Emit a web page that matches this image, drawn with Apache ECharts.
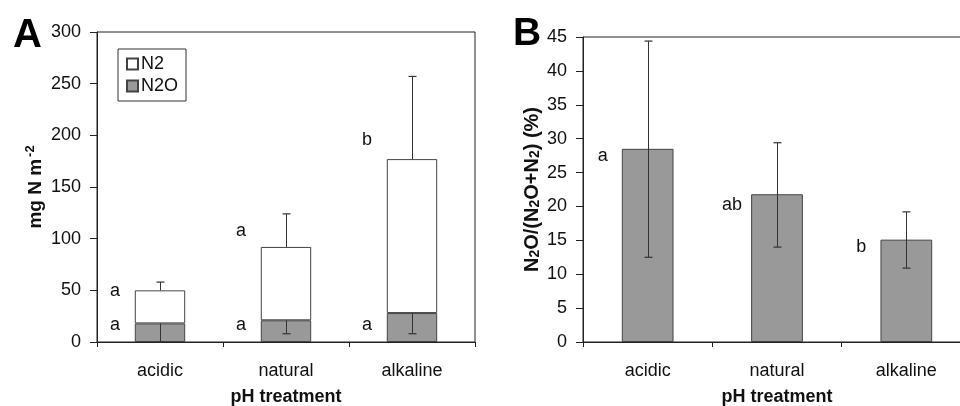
<!DOCTYPE html>
<html>
<head>
<meta charset="utf-8">
<style>
  html, body { margin: 0; padding: 0; background: #fff; }
  #main { width: 960px; height: 406px; }
</style>
<script src="https://cdn.jsdelivr.net/npm/echarts@6/dist/echarts.min.js"></script>
</head>
<body>
<div id="main"></div>
<script>
// 数据
var categories = ['acidic', 'natural', 'alkaline'];

// panel A (mg N m-2)
var n2oA = [18, 21, 28];
var n2A = [32, 71, 149];
var totalA = [50, 92, 177];
var totalErrTop = [58, 124, 257];
var n2oErrBottom = [0, 8, 8];
var lettersTotalA = ['a', 'a', 'b'];
var lettersTotalAY = [49, 107, 195];
var lettersN2oA = ['a', 'a', 'a'];
var lettersN2oAY = [16, 16, 16];

// panel B (%)
var ratioB = [28.5, 21.8, 15.1];
var ratioErrTop = [44.4, 29.4, 19.2];
var ratioErrBottom = [12.5, 14.0, 10.9];
var lettersB = ['a', 'ab', 'b'];
var lettersBY = [27.5, 20.2, 14.0];

var font = 'Liberation Sans, Arial, sans-serif';
var ink = '#111';

(function() {
  var myChart = echarts.init(document.getElementById('main'));

  // 误差线
  function errBar(capTop, capBottom) {
    return function(params, api) {
      var top = api.coord([api.value(0), api.value(2)]);
      var bot = api.coord([api.value(0), api.value(1)]);
      var x = Math.round(top[0]) + 0.5;
      var w = 4;
      var children = [{
        type: 'line',
        shape: { x1: x, y1: top[1], x2: x, y2: bot[1] },
        style: { stroke: '#333', lineWidth: 1 }
      }];
      if (capTop) {
        children.push({
          type: 'line',
          shape: { x1: x - w, y1: top[1], x2: x + w, y2: top[1] },
          style: { stroke: '#333', lineWidth: 1.2 }
        });
      }
      if (capBottom) {
        children.push({
          type: 'line',
          shape: { x1: x - w, y1: bot[1], x2: x + w, y2: bot[1] },
          style: { stroke: '#333', lineWidth: 1.2 }
        });
      }
      return { type: 'group', children: children };
    };
  }

  function pairs(lo, hi) {
    return categories.map(function(c, i) { return [i, lo[i], hi[i]]; });
  }

  function letterSeries(xi, yi, letters, ys) {
    return {
      type: 'scatter',
      xAxisIndex: xi,
      yAxisIndex: yi,
      symbolSize: 0,
      itemStyle: { color: ink, opacity: 1 },
      silent: true,
      z: 5,
      label: {
        show: true,
        position: 'inside',
        offset: [-45, 0],
        color: ink,
        opacity: 1,
        fontFamily: font,
        fontSize: 18,
        formatter: function(p) { return letters[p.dataIndex]; }
      },
      data: ys.map(function(v, i) { return [i, v]; })
    };
  }

  function xAxisCfg(gi) {
    return {
      type: 'category',
      gridIndex: gi,
      data: categories,
      boundaryGap: true,
      axisLine: { show: true, lineStyle: { color: '#222', width: 1 } },
      axisTick: { show: true, alignWithLabel: false, length: 5, lineStyle: { color: '#222' } },
      axisLabel: { color: ink, fontFamily: font, fontSize: 18, margin: 20 },
      splitLine: { show: false },
      name: 'pH treatment',
      nameLocation: 'middle',
      nameGap: 46,
      nameTextStyle: { color: ink, fontFamily: font, fontSize: 18, fontWeight: 'bold' }
    };
  }

  var option = {
    animation: false,
    backgroundColor: '#fff',
    title: [
      { text: 'A', left: 8, top: 11, textStyle: { fontFamily: font, fontSize: 40, fontWeight: 'bold', color: '#000' } },
      { text: 'B', left: 508, top: 10, textStyle: { fontFamily: font, fontSize: 39, fontWeight: 'bold', color: '#000' } }
    ],
    legend: {
      data: ['N2', 'N2O'],
      orient: 'vertical',
      left: 118,
      top: 49,
      padding: [6, 8, 6, 8],
      itemGap: 4,
      itemWidth: 11,
      itemHeight: 11,
      borderColor: '#333',
      borderWidth: 1,
      icon: 'rect',
      selectedMode: false,
      textStyle: { color: ink, fontFamily: font, fontSize: 18, padding: [0, 0, 0, -2] }
    },
    grid: [
      { left: 97, top: 32, width: 378, height: 310, show: true, borderColor: '#222', borderWidth: 1, outerBoundsMode: 'none' },
      { left: 583, top: 37, width: 388, height: 305, show: true, borderColor: '#222', borderWidth: 1, outerBoundsMode: 'none' }
    ],
    xAxis: [xAxisCfg(0), xAxisCfg(1)],
    yAxis: [{
      type: 'value',
      gridIndex: 0,
      min: 0,
      max: 300,
      interval: 50,
      axisLine: { show: true, lineStyle: { color: '#222', width: 1 } },
      axisTick: { show: true, length: 7, lineStyle: { color: '#222' } },
      axisLabel: { color: ink, fontFamily: font, fontSize: 18, margin: 16 },
      splitLine: { show: false },
      name: '{b|mg N m}{sup|-2}',
      nameLocation: 'middle',
      nameGap: 50,
      nameTextStyle: {
        rich: {
          b: { color: ink, fontFamily: font, fontSize: 19, fontWeight: 'bold' },
          sup: { color: ink, fontFamily: font, fontSize: 13, fontWeight: 'bold', verticalAlign: 'top', padding: [0, 0, 10, 2] }
        }
      }
    }, {
      type: 'value',
      gridIndex: 1,
      min: 0,
      max: 45,
      interval: 5,
      axisLine: { show: true, lineStyle: { color: '#222', width: 1 } },
      axisTick: { show: true, length: 7, lineStyle: { color: '#222' } },
      axisLabel: { color: ink, fontFamily: font, fontSize: 18, margin: 16 },
      splitLine: { show: false },
      name: '{b|N}{s|2}{b|O/(N}{s|2}{b|O+N}{s|2}{b|) (%)}',
      nameLocation: 'middle',
      nameGap: 41,
      nameTextStyle: {
        rich: {
          b: { color: ink, fontFamily: font, fontSize: 20, fontWeight: 'bold' },
          s: { color: ink, fontFamily: font, fontSize: 14, fontWeight: 'bold', padding: [6, 0, 0, 0] }
        }
      }
    }],
    series: [
      {
        name: 'N2O',
        type: 'bar',
        stack: 'A',
        xAxisIndex: 0,
        yAxisIndex: 0,
        barWidth: '40%',
        itemStyle: { color: '#999', borderColor: '#444', borderWidth: 1 },
        data: n2oA
      },
      {
        name: 'N2',
        type: 'bar',
        stack: 'A',
        xAxisIndex: 0,
        yAxisIndex: 0,
        barWidth: '40%',
        itemStyle: { color: '#fff', borderColor: '#444', borderWidth: 1 },
        data: n2A
      },
      {
        type: 'custom',
        xAxisIndex: 0,
        yAxisIndex: 0,
        renderItem: errBar(true, false),
        encode: { x: 0, y: [1, 2] },
        z: 4,
        data: pairs(totalA, totalErrTop)
      },
      {
        type: 'custom',
        xAxisIndex: 0,
        yAxisIndex: 0,
        renderItem: errBar(false, true),
        encode: { x: 0, y: [1, 2] },
        z: 4,
        data: pairs(n2oErrBottom, n2oA)
      },
      letterSeries(0, 0, lettersTotalA, lettersTotalAY),
      letterSeries(0, 0, lettersN2oA, lettersN2oAY),
      {
        name: 'ratio',
        type: 'bar',
        xAxisIndex: 1,
        yAxisIndex: 1,
        barWidth: '40%',
        itemStyle: { color: '#999', borderColor: '#444', borderWidth: 1 },
        data: ratioB
      },
      {
        type: 'custom',
        xAxisIndex: 1,
        yAxisIndex: 1,
        renderItem: errBar(true, true),
        encode: { x: 0, y: [1, 2] },
        z: 4,
        data: pairs(ratioErrBottom, ratioErrTop)
      },
      letterSeries(1, 1, lettersB, lettersBY)
    ]
  };

  myChart.setOption(option);
  window.addEventListener('resize', function() {
    myChart.resize();
  });
})();
</script>
</body>
</html>
